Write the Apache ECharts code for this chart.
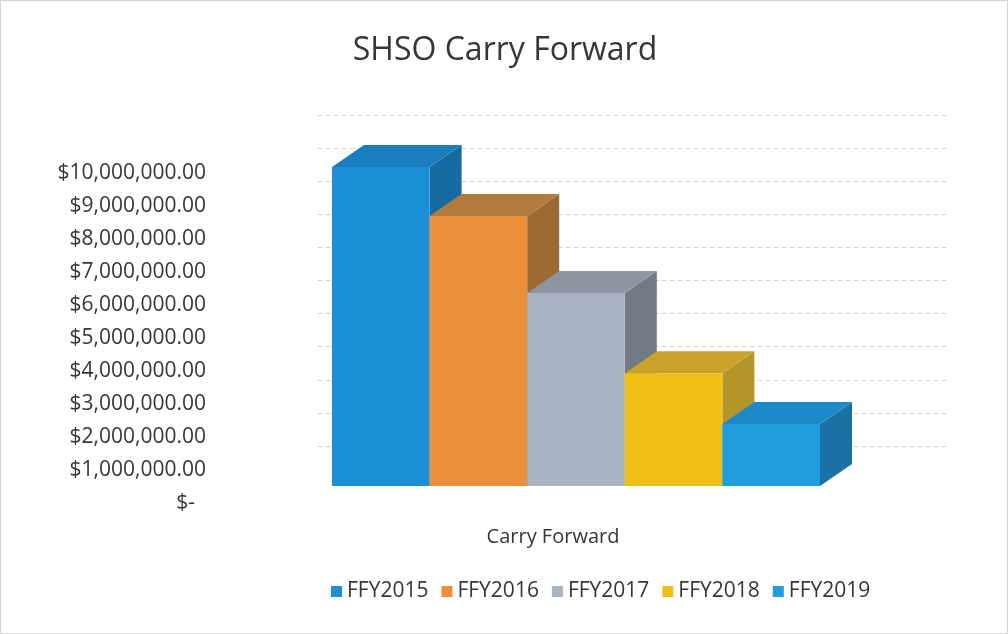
<!DOCTYPE html>
<html>
<head>
<meta charset="utf-8">
<script src="https://cdn.jsdelivr.net/npm/echarts@6/dist/echarts.min.js"></script>
<style>
  html, body { margin: 0; padding: 0; background: #fff; }
  #chart { width: 1008px; height: 634px; box-sizing: border-box; border: 1px solid #d4d4d4; }
</style>
</head>
<body>
<div id="chart"></div>
<script>
// data
const category = ["Carry Forward"];
const years = ["FFY2015", "FFY2016", "FFY2017", "FFY2018", "FFY2019"];
const carryForward = [9640000, 8160000, 5830000, 3410000, 1870000];
const valueTicks = { min: 0, max: 10000000, step: 1000000 };

// 3d look: front / top / side shades per year
const shades = [
  { front: "#1b8fd6", top: "#1a7dbf", side: "#156b9f" },
  { front: "#ec8f3b", top: "#b27a3c", side: "#9a6a32" },
  { front: "#a8b2c0", top: "#8d95a2", side: "#727a85" },
  { front: "#eebf16", top: "#c8a229", side: "#b4962a" },
  { front: "#1f9ddd", top: "#1d89c8", side: "#1a71a5" },
];
const DEPTH_X = 32;
const DEPTH_Y = -22;
const textColor = "#363636";
const fontFamily = "'Open Sans', sans-serif";

function moneyLabel(v) {
  if (v === 0) return "$-  ";
  return "$" + v.toLocaleString("en-US", { minimumFractionDigits: 2, maximumFractionDigits: 2 });
}

function renderBox(params, api) {
  const idx = params.seriesIndex;
  const base = api.coord([api.value(0), 0]);
  const top = api.coord([api.value(0), api.value(1)]);
  const band = api.size([1, 0])[0];
  const w = band / years.length;
  const x0 = base[0] - band / 2 + idx * w;
  const x1 = x0 + w;
  const y0 = base[1];
  const y1 = top[1];
  const c = shades[idx];
  return {
    type: "group",
    children: [
      {
        type: "polygon",
        shape: { points: [[x1, y0], [x1 + DEPTH_X, y0 + DEPTH_Y], [x1 + DEPTH_X, y1 + DEPTH_Y], [x1, y1]] },
        style: { fill: c.side },
      },
      {
        type: "polygon",
        shape: { points: [[x0, y1], [x0 + DEPTH_X, y1 + DEPTH_Y], [x1 + DEPTH_X, y1 + DEPTH_Y], [x1, y1]] },
        style: { fill: c.top },
      },
      {
        type: "rect",
        shape: { x: x0, y: y1, width: w, height: y0 - y1 },
        style: { fill: c.front },
      },
    ],
  };
}

const chart = echarts.init(document.getElementById("chart"));

const valueAxisBase = {
  type: "value",
  min: valueTicks.min,
  max: valueTicks.max,
  interval: valueTicks.step,
  axisLine: { show: false },
  axisTick: { show: false },
};

chart.setOption({
  animation: false,
  backgroundColor: "#fff",
  textStyle: { fontFamily },
  title: {
    text: "SHSO Carry Forward",
    left: 499,
    textAlign: "center",
    top: 29,
    textStyle: { fontFamily, fontSize: 32, fontWeight: "normal", color: textColor },
  },
  legend: {
    data: years,
    left: 325,
    top: 575,
    icon: "rect",
    itemWidth: 11,
    itemHeight: 11,
    itemGap: 13,
    textStyle: { fontFamily, fontSize: 21, color: textColor },
  },
  grid: [
    // labels (value axis + category name)
    { left: 215, width: 674, top: 172, height: 330 },
    // back wall with gridlines
    { left: 317, right: 61, top: 114, height: 331 },
    // bars, front faces
    { left: 331, width: 488, top: 154, height: 331 },
  ],
  xAxis: [
    {
      type: "category",
      gridIndex: 0,
      data: category,
      axisLine: { show: false },
      axisTick: { show: false },
      axisLabel: { margin: 24, fontFamily, fontSize: 20, color: textColor },
    },
    { type: "category", gridIndex: 1, data: category, show: false },
    { type: "category", gridIndex: 2, data: category, show: false },
  ],
  yAxis: [
    {
      ...valueAxisBase,
      gridIndex: 0,
      splitLine: { show: false },
      axisLabel: { margin: 10, fontFamily, fontSize: 21, color: textColor, formatter: moneyLabel },
    },
    {
      ...valueAxisBase,
      gridIndex: 1,
      axisLabel: { show: false },
      splitLine: { lineStyle: { color: "#d2d2d2", type: [5, 3], width: 1 } },
    },
    {
      ...valueAxisBase,
      gridIndex: 2,
      axisLabel: { show: false },
      splitLine: { show: false },
    },
  ],
  series: years.map((name, i) => ({
    type: "custom",
    name,
    xAxisIndex: 2,
    yAxisIndex: 2,
    itemStyle: { color: shades[i].front },
    renderItem: renderBox,
    encode: { x: 0, y: 1 },
    data: [[0, carryForward[i]]],
  })),
});
</script>
</body>
</html>
